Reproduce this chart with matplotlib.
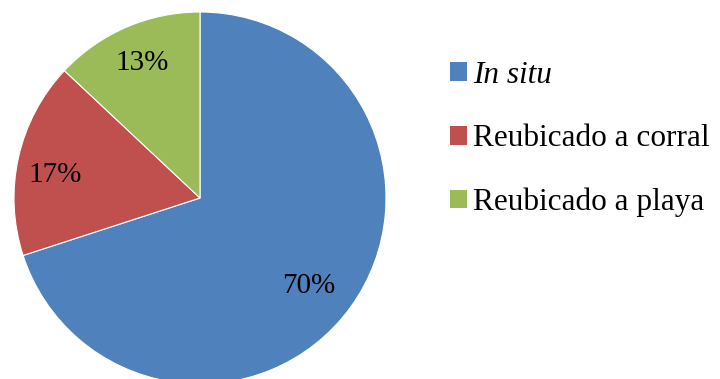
import numpy as np
import matplotlib
matplotlib.use("Agg")
import matplotlib.pyplot as plt
from matplotlib.patches import Patch

# data
labels = ["In situ", "Reubicado a corral", "Reubicado a playa"]
values = [70, 17, 13]
colors = ["#4F81BD", "#C0504D", "#9BBB59"]

plt.rcParams["font.family"] = ["Liberation Serif", "DejaVu Serif"]

fig = plt.figure(figsize=(7.2, 3.79), dpi=100)
ax = fig.add_axes([0, 0, 1, 1])

cx, cy, rad = 200, 379 - 198, 186
wedges, texts, autotexts = ax.pie(
    values, colors=colors, startangle=90, counterclock=False,
    center=(cx, cy), radius=rad,
    autopct="%1.0f%%", pctdistance=0.78,
    wedgeprops=dict(edgecolor="white", linewidth=0.8),
    textprops=dict(fontsize=21, color="black"),
)

# nudge the percent labels a little, like the original placement
dist = [0.75, 0.79, 0.79]
shift = [-3, 3.5, 0]
for w, t, d, s in zip(wedges, autotexts, dist, shift):
    ang = np.deg2rad((w.theta1 + w.theta2) / 2 + s)
    t.set_position((cx + d * rad * np.cos(ang), cy + d * rad * np.sin(ang)))

ax.set_xlim(0, 720)
ax.set_ylim(0, 379)
ax.set_aspect("equal")
ax.axis("off")

handles = [Patch(facecolor=c, edgecolor="none") for c in colors]
leg = ax.legend(handles, labels, loc="center left",
                bbox_to_anchor=(450 / 720, 1 - 139 / 379),
                frameon=False, fontsize=22.5,
                handlelength=0.55, handleheight=0.55, handletextpad=0.2,
                labelspacing=1.1, borderpad=0, borderaxespad=0)
leg.get_texts()[0].set_style("italic")

fig.savefig("out.png", dpi=100)
